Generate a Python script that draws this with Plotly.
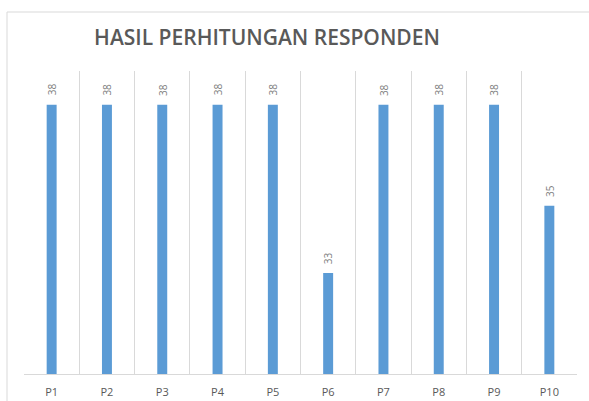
import plotly.graph_objects as go

categories = ["P1", "P2", "P3", "P4", "P5", "P6", "P7", "P8", "P9", "P10"]
values = [38, 38, 38, 38, 38, 33, 38, 38, 38, 35]

title_text = "HASIL PERHITUNGAN RESPONDEN"
bar_color = "#5B9BD5"
text_gray = "#595959"
grid_gray = "#D9D9D9"

fig = go.Figure()
fig.add_trace(go.Bar(
    x=categories, y=values,
    marker=dict(color=bar_color, line=dict(width=0)),
    hoverinfo="x+y",
))

annotations = [
    dict(x=c, y=v, xref="x", yref="y", text=str(v), showarrow=False,
         textangle=-90, yanchor="bottom", xanchor="center", yshift=7,
         font=dict(family="Open Sans", size=10, color="#7F7F7F"))
    for c, v in zip(categories, values)
]

fig.update_layout(
    width=589, height=401,
    margin=dict(l=24, r=12, t=71, b=27, autoexpand=False),
    paper_bgcolor="white", plot_bgcolor="white",
    bargap=0.82,
    showlegend=False,
    title=dict(text=title_text, x=267 / 589, xanchor="center",
               y=1 - 38 / 401, yanchor="middle",
               font=dict(family="Open Sans", size=21, weight=600, color=text_gray)),
    annotations=annotations,
    shapes=[
        dict(type="rect", xref="paper", yref="paper",
             x0=(7 - 24) / 553, x1=(700 - 24) / 553,
             y0=(374 - 500) / 303, y1=(374 - 12) / 303,
             line=dict(color=grid_gray, width=1), fillcolor="rgba(0,0,0,0)", layer="below"),
    ],
)
fig.update_xaxes(
    type="category", tickson="boundaries", showgrid=True, gridcolor=grid_gray, gridwidth=1,
    showline=True, linecolor=grid_gray, linewidth=1, ticks="",
    tickfont=dict(family="Open Sans", size=11, color=text_gray),
    ticklabelstandoff=8, zeroline=False, automargin=False,
)
fig.update_yaxes(range=[30, 39], visible=False, showgrid=False, zeroline=False, automargin=False)

fig.write_html("out.html", config={"displayModeBar": False},
               post_script="document.body.style.margin='0';")
